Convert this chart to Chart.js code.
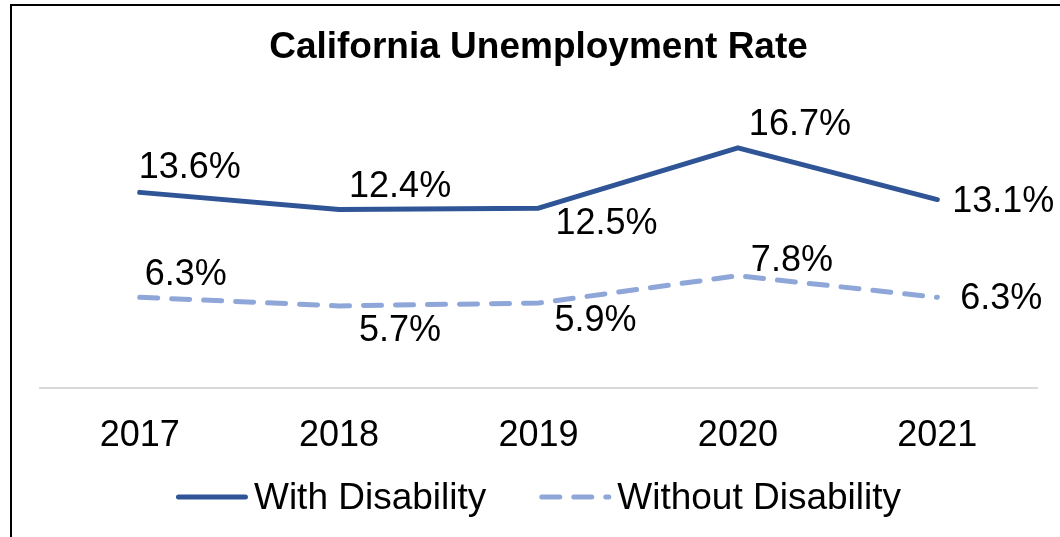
<!DOCTYPE html>
<html>
<head>
<meta charset="utf-8">
<script src="https://cdn.jsdelivr.net/npm/chart.js@4.4.1/dist/chart.umd.min.js"></script>
<style>
  html, body { margin: 0; padding: 0; background: #fff; overflow: hidden; }
  #wrap { position: relative; width: 1060px; height: 537px; }
  #frame { position: absolute; left: 10px; top: 4px; width: 1200px; height: 700px;
           border-left: 2px solid #000; border-top: 2px solid #000; pointer-events: none; }
</style>
</head>
<body>
<div id="wrap">
  <canvas id="chartUnemployment" width="1060" height="537"></canvas>
  <div id="frame"></div>
</div>
<script>
const years = ['2017', '2018', '2019', '2020', '2021'];
const withDisability = [13.6, 12.4, 12.5, 16.7, 13.1];
const withoutDisability = [6.3, 5.7, 5.9, 7.8, 6.3];

// donde va cada etiqueta respecto a su punto (centro del texto, px)
const offsetsWith = [[50, -26], [61, -25], [68, 14], [62, -25], [66, 1]];
const offsetsWithout = [[46, -24], [61, 23], [57, 16], [54, -17], [64, 0]];

const fontFamily = "'Liberation Sans', Arial, sans-serif";

const etiquetasPlugin = {
    id: 'etiquetas',
    afterDatasetsDraw(chart) {
        const ctx = chart.ctx;
        const offsets = [offsetsWith, offsetsWithout];
        ctx.save();
        ctx.font = '36px ' + fontFamily;
        ctx.fillStyle = '#000';
        ctx.textAlign = 'center';
        ctx.textBaseline = 'middle';
        chart.data.datasets.forEach((ds, d) => {
            const meta = chart.getDatasetMeta(d);
            meta.data.forEach((pt, i) => {
                const [dx, dy] = offsets[d][i];
                ctx.fillText(ds.data[i].toFixed(1) + '%', pt.x + dx, pt.y + dy + 2);
            });
        });
        ctx.restore();
    }
};

// leyenda a mano: la de Chart.js no dibuja la raya discontinua
const leyendaPlugin = {
    id: 'leyenda',
    afterDraw(chart) {
        const ctx = chart.ctx;
        const lineLen = 72, gapText = 6, gapItem = 53, y = 497;
        ctx.save();
        ctx.font = '37px ' + fontFamily;
        const items = chart.data.datasets.map(ds => ({ ds, w: ctx.measureText(ds.label).width }));
        let total = items.reduce((s, it) => s + lineLen + gapText + it.w, 0) + gapItem * (items.length - 1);
        let x = (chart.chartArea.left + chart.chartArea.right) / 2 - total / 2;
        items.forEach(({ ds, w }) => {
            ctx.beginPath();
            ctx.lineWidth = ds.borderWidth;
            ctx.strokeStyle = ds.borderColor;
            ctx.lineCap = 'round';
            ctx.setLineDash(ds.borderDash || []);
            ctx.moveTo(x + 2.5, y);
            ctx.lineTo(x + lineLen - 2.5, y);
            ctx.stroke();
            ctx.setLineDash([]);
            ctx.fillStyle = '#000';
            ctx.textAlign = 'left';
            ctx.textBaseline = 'middle';
            ctx.fillText(ds.label, x + lineLen + gapText, y + 2);
            x += lineLen + gapText + w + gapItem;
        });
        ctx.restore();
    }
};

const ctx = document.getElementById('chartUnemployment').getContext('2d');
new Chart(ctx, {
    type: 'line',
    data: {
        labels: years,
        datasets: [
            {
                label: 'With Disability',
                data: withDisability,
                borderColor: '#2F5597',
                backgroundColor: '#2F5597',
                borderWidth: 5,
                borderCapStyle: 'round',
                borderJoinStyle: 'round',
                pointRadius: 0,
                tension: 0
            },
            {
                label: 'Without Disability',
                data: withoutDisability,
                borderColor: '#8FA7D8',
                backgroundColor: '#8FA7D8',
                borderWidth: 5,
                borderDash: [18, 14],
                borderCapStyle: 'round',
                borderJoinStyle: 'round',
                pointRadius: 0,
                tension: 0
            }
        ]
    },
    options: {
        responsive: false,
        animation: false,
        devicePixelRatio: 1,
        layout: { padding: { left: 40, right: 23, top: 0, bottom: 52 } },
        plugins: {
            title: {
                display: true,
                text: 'California Unemployment Rate',
                color: '#000',
                font: { family: fontFamily, size: 37, weight: 'bold' },
                padding: { top: 26, bottom: 30 }
            },
            legend: { display: false },
            tooltip: { enabled: false }
        },
        scales: {
            x: {
                offset: true,
                grid: { display: false, drawTicks: false },
                border: { display: true, color: '#D9D9D9', width: 2 },
                ticks: { color: '#000', padding: 27, maxRotation: 0, font: { family: fontFamily, size: 36 } }
            },
            y: {
                display: false,
                min: 0,
                max: 20
            }
        }
    },
    plugins: [etiquetasPlugin, leyendaPlugin]
});
</script>
</body>
</html>
